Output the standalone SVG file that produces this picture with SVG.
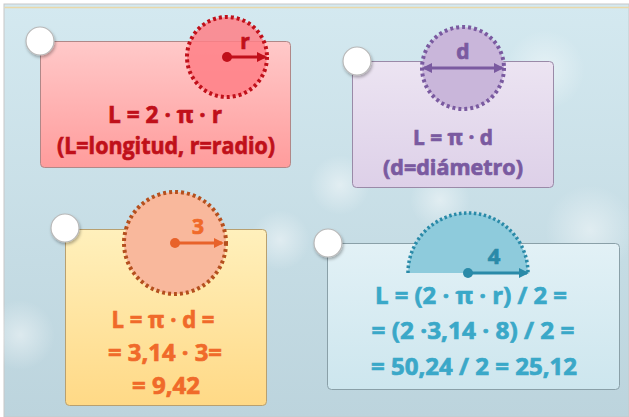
<svg xmlns="http://www.w3.org/2000/svg" width="629" height="417" viewBox="0 0 629 417">
<style>
.t{font-family:"Open Sans","Liberation Sans",sans-serif;font-weight:700;text-anchor:middle;stroke-width:0.7;paint-order:stroke}
.box{stroke-width:1}
.pin{fill:#ffffff;stroke:#b8b8b8;stroke-width:1.2}
.red{fill:#c0101a;stroke:#c0101a}
.pur{fill:#7a5aa0;stroke:#7a5aa0}
.ora{fill:#f06a2a;stroke:#f06a2a}
.blu{fill:#3aa8c8;stroke:#3aa8c8}
.blu2{fill:#2a8aa8;stroke:#2a8aa8}
</style>
<defs>
<linearGradient id="bg" x1="0" y1="0" x2="0" y2="1">
<stop offset="0" stop-color="#d4e9f0"/><stop offset="1" stop-color="#bcd4dd"/>
</linearGradient>
<linearGradient id="gRed" x1="0" y1="0" x2="0" y2="1">
<stop offset="0" stop-color="#ffc9c9"/><stop offset="1" stop-color="#ff9c9c"/>
</linearGradient>
<linearGradient id="gPur" x1="0" y1="0" x2="0" y2="1">
<stop offset="0" stop-color="#ece4f2"/><stop offset="1" stop-color="#ddd0e8"/>
</linearGradient>
<linearGradient id="gYel" x1="0" y1="0" x2="0" y2="1">
<stop offset="0" stop-color="#fff0bc"/><stop offset="1" stop-color="#ffd986"/>
</linearGradient>
<linearGradient id="gBlu" x1="0" y1="0" x2="0" y2="1">
<stop offset="0" stop-color="#e2f1f6"/><stop offset="1" stop-color="#cde6ee"/>
</linearGradient>
<radialGradient id="bok"><stop offset="0" stop-color="#ffffff" stop-opacity="0.45"/><stop offset="1" stop-color="#ffffff" stop-opacity="0"/></radialGradient>
<filter id="sh" x="-50%" y="-50%" width="200%" height="200%"><feDropShadow dx="1" dy="2" stdDeviation="1.5" flood-color="#000" flood-opacity="0.3"/></filter>
<marker id="aR" markerWidth="10" markerHeight="10" refX="8" refY="5" orient="auto" markerUnits="userSpaceOnUse"><path d="M0,0 L10,5 L0,10 Z" fill="#c0101a"/></marker>
<marker id="aP" markerWidth="10" markerHeight="10" refX="8" refY="5" orient="auto-start-reverse" markerUnits="userSpaceOnUse"><path d="M0,0 L10,5 L0,10 Z" fill="#7a5aa0"/></marker>
<marker id="aO" markerWidth="10" markerHeight="10" refX="8" refY="5" orient="auto" markerUnits="userSpaceOnUse"><path d="M0,0 L10,5 L0,10 Z" fill="#e8622a"/></marker>
<marker id="aB" markerWidth="10" markerHeight="10" refX="8" refY="5" orient="auto" markerUnits="userSpaceOnUse"><path d="M0,0 L10,5 L0,10 Z" fill="#2a8aa8"/></marker>
</defs>
<rect width="629" height="417" fill="#ffffff"/>
<rect x="4" y="4" width="625" height="413" fill="url(#bg)" stroke="#c8c8c8" stroke-width="1"/>
<line x1="4.5" y1="7.5" x2="629" y2="7.5" stroke="#ead8a8" stroke-width="1.5"/>
<g id="bokeh">
<circle cx="545" cy="70" r="40" fill="url(#bok)"/>
<circle cx="280" cy="240" r="30" fill="url(#bok)"/>
<circle cx="590" cy="230" r="45" fill="url(#bok)"/>
<circle cx="20" cy="335" r="35" fill="url(#bok)"/>
<circle cx="440" cy="200" r="30" fill="url(#bok)"/>
<circle cx="340" cy="185" r="30" fill="url(#bok)"/>
</g>

<g id="node-radio">
<rect class="box" x="40.5" y="41.5" width="250" height="126" rx="4" fill="url(#gRed)" stroke="#b08888"/>
<circle class="pin" cx="40" cy="41" r="14" filter="url(#sh)"/>
<circle cx="227" cy="57" r="40" fill="#ff7f86" fill-opacity="0.85" stroke="#c0101a" stroke-width="4" stroke-dasharray="3 3"/>
<line x1="227" y1="57" x2="265" y2="57" stroke="#c0101a" stroke-width="3" marker-end="url(#aR)"/>
<circle cx="227" cy="57" r="5" fill="#c0101a"/>
<text class="t red" x="245" y="49" font-size="21">r</text>
<text class="t red" x="165" y="123" font-size="24" textLength="114" lengthAdjust="spacingAndGlyphs">L = 2 · π · r</text>
<text class="t red" x="166" y="154" font-size="24" textLength="218" lengthAdjust="spacingAndGlyphs">(L=longitud, r=radio)</text>
</g>

<g id="node-diametro">
<rect class="box" x="352.5" y="61.5" width="201" height="126" rx="4" fill="url(#gPur)" stroke="#9a8aa8"/>
<circle class="pin" cx="357" cy="61" r="14" filter="url(#sh)"/>
<circle cx="463" cy="68" r="41" fill="#c9b6da" stroke="#7a5aa0" stroke-width="4" stroke-dasharray="3 3"/>
<line x1="424" y1="68" x2="502" y2="68" stroke="#7a5aa0" stroke-width="3" marker-start="url(#aP)" marker-end="url(#aP)"/>
<text class="t pur" x="463" y="59" font-size="21">d</text>
<text class="t pur" x="453" y="145" font-size="22" textLength="80" lengthAdjust="spacingAndGlyphs">L = π · d</text>
<text class="t pur" x="453" y="175" font-size="22" textLength="140" lengthAdjust="spacingAndGlyphs">(d=diámetro)</text>
</g>

<g id="node-ejemplo1">
<rect class="box" x="65.5" y="229.5" width="201" height="176" rx="4" fill="url(#gYel)" stroke="#b8a070"/>
<circle class="pin" cx="65" cy="228" r="14" filter="url(#sh)"/>
<circle cx="175" cy="243" r="51" fill="#f9b89c" stroke="#b5501e" stroke-width="4" stroke-dasharray="3 3"/>
<line x1="175" y1="243" x2="222" y2="243" stroke="#e8622a" stroke-width="3" marker-end="url(#aO)"/>
<circle cx="175" cy="243" r="5" fill="#e8622a"/>
<text class="t ora" x="198" y="234" font-size="21">3</text>
<text class="t ora" x="163" y="328" font-size="24" textLength="103" lengthAdjust="spacingAndGlyphs">L = π · d =</text>
<text class="t ora" x="165" y="361" font-size="24" textLength="114" lengthAdjust="spacingAndGlyphs">= 3,14 · 3=</text>
<text class="t ora" x="166" y="394" font-size="24" textLength="68" lengthAdjust="spacingAndGlyphs">= 9,42</text>
</g>

<g id="node-ejemplo2">
<rect class="box" x="327.5" y="243.5" width="292" height="146" rx="4" fill="url(#gBlu)" stroke="#8aa0a8"/>
<circle class="pin" cx="328" cy="243" r="14" filter="url(#sh)"/>
<path d="M408,273 A60,60 0 0 1 528,273 Z" fill="#8ecbdc"/>
<path d="M408,273 A60,60 0 0 1 528,273" fill="none" stroke="#2a8aa8" stroke-width="3.5" stroke-dasharray="2.5 2.5"/>
<line x1="468" y1="273" x2="527" y2="273" stroke="#2a8aa8" stroke-width="3" marker-end="url(#aB)"/>
<circle cx="468" cy="273" r="5" fill="#2a8aa8"/>
<text class="t blu2" x="494" y="264" font-size="22">4</text>
<text class="t blu" x="471" y="304" font-size="24" textLength="192" lengthAdjust="spacingAndGlyphs">L = (2 · π · r) / 2 =</text>
<text class="t blu" x="473" y="339" font-size="24" textLength="203" lengthAdjust="spacingAndGlyphs">= (2 ·3,14 · 8) / 2 =</text>
<text class="t blu" x="474" y="375" font-size="24" textLength="206" lengthAdjust="spacingAndGlyphs">= 50,24 / 2 = 25,12</text>
</g>
<g id="connectors"/>
</svg>
